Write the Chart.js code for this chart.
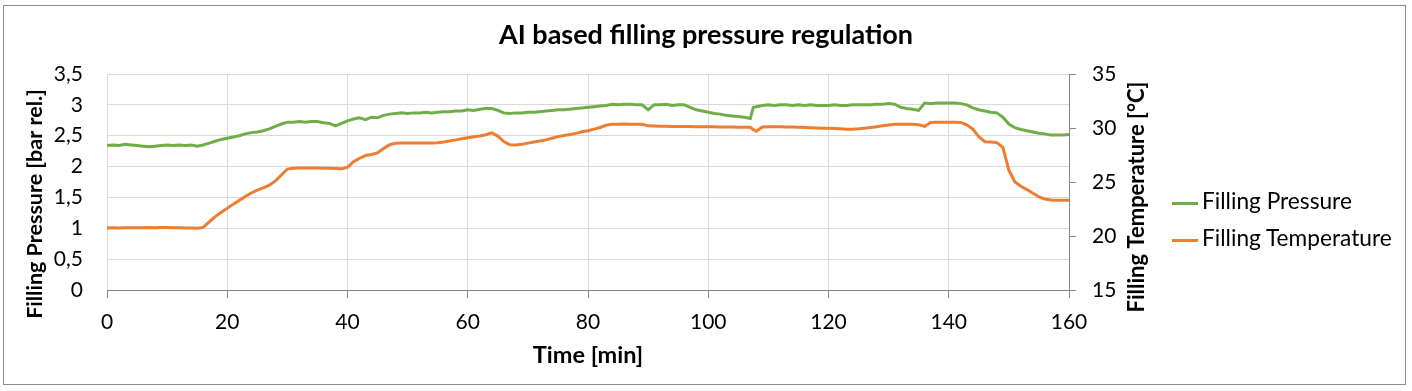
<!DOCTYPE html>
<html>
<head>
<meta charset="utf-8">
<script src="https://cdn.jsdelivr.net/npm/chart.js@4"></script>
<style>
  body { margin: 0; background: #fff; }
  #wrap { position: relative; width: 1412px; height: 391px; }
  #legend { position: absolute; left: 1172px; top: 182px; font-family: Lato, sans-serif; font-size: 22.7px; color: #000; }
  #legend .item { height: 37px; line-height: 37px; white-space: nowrap; }
  #legend .line { display: inline-block; width: 26px; height: 3px; vertical-align: middle; margin-right: 4px; }
</style>
</head>
<body>
<div id="wrap">
  <canvas id="fillChart" width="1412" height="391"></canvas>
  <div id="legend"></div>
</div>
<script>
var minutes = [
  0, 1, 2, 3, 4, 5, 6, 7, 8, 9, 10, 11, 12, 13, 14, 15, 16, 17, 18, 19,
  20, 21, 22, 23, 24, 25, 26, 27, 28, 29, 30, 31, 32, 33, 34, 35, 36, 37, 38, 39,
  40, 41, 42, 43, 44, 45, 46, 47, 48, 49, 50, 51, 52, 53, 54, 55, 56, 57, 58, 59,
  60, 61, 62, 63, 64, 65, 66, 67, 68, 69, 70, 71, 72, 73, 74, 75, 76, 77, 78, 79,
  80, 81, 82, 83, 84, 85, 86, 87, 88, 89, 90, 91, 92, 93, 94, 95, 96, 97, 98, 99,
  100, 101, 102, 103, 104, 105, 106, 107, 107.5, 108, 109, 110, 111, 112, 113, 114, 115, 116, 117, 118, 119,
  120, 121, 122, 123, 124, 125, 126, 127, 128, 129, 130, 131, 132, 133, 134, 135, 136, 137, 138, 139,
  140, 141, 142, 143, 144, 145, 146, 147, 148, 149, 150, 151, 152, 153, 154, 155, 156, 157, 158, 159,
  160
];

// bar rel.
var pressure = [
  2.34, 2.35, 2.34, 2.36, 2.35, 2.34, 2.33, 2.32, 2.33, 2.34, 2.35, 2.34, 2.35, 2.34, 2.35, 2.33, 2.35, 2.38, 2.41, 2.44,
  2.46, 2.48, 2.50, 2.53, 2.55, 2.56, 2.58, 2.61, 2.65, 2.69, 2.72, 2.72, 2.73, 2.72, 2.73, 2.73, 2.71, 2.70, 2.66, 2.70,
  2.74, 2.77, 2.79, 2.76, 2.80, 2.79, 2.83, 2.85, 2.86, 2.87, 2.86, 2.87, 2.87, 2.88, 2.87, 2.88, 2.89, 2.89, 2.90, 2.90,
  2.92, 2.91, 2.93, 2.94, 2.94, 2.91, 2.87, 2.86, 2.87, 2.87, 2.88, 2.88, 2.89, 2.90, 2.91, 2.92, 2.92, 2.93, 2.94, 2.95,
  2.96, 2.97, 2.98, 2.99, 3.01, 3.00, 3.01, 3.01, 3.00, 3.00, 2.92, 3.00, 3.00, 3.01, 2.99, 3.00, 3.00, 2.96, 2.92, 2.90,
  2.88, 2.86, 2.85, 2.83, 2.82, 2.81, 2.80, 2.78, 2.96, 2.97, 2.99, 3.00, 2.99, 3.00, 3.00, 2.99, 3.00, 2.99, 3.00, 2.99, 2.99,
  2.99, 3.00, 2.99, 2.99, 3.00, 3.00, 3.00, 3.00, 3.01, 3.01, 3.02, 3.01, 2.96, 2.94, 2.93, 2.91, 3.03, 3.02, 3.03, 3.03,
  3.03, 3.03, 3.02, 3.00, 2.95, 2.92, 2.90, 2.88, 2.87, 2.80, 2.69, 2.63, 2.60, 2.58, 2.56, 2.54, 2.53, 2.51, 2.51, 2.51,
  2.52
];

// °C
var temperature = [
  20.75, 20.76, 20.75, 20.77, 20.76, 20.76, 20.77, 20.78, 20.77, 20.78, 20.78, 20.77, 20.76, 20.75, 20.74, 20.72, 20.80, 21.30, 21.80, 22.20,
  22.56, 22.95, 23.30, 23.65, 23.98, 24.25, 24.45, 24.70, 25.10, 25.65, 26.20, 26.28, 26.30, 26.30, 26.29, 26.30, 26.28, 26.27, 26.25, 26.22,
  26.35, 26.88, 27.20, 27.45, 27.55, 27.70, 28.10, 28.45, 28.58, 28.60, 28.60, 28.60, 28.61, 28.61, 28.62, 28.64, 28.70, 28.80, 28.90, 29.00,
  29.10, 29.18, 29.26, 29.38, 29.55, 29.25, 28.75, 28.45, 28.43, 28.50, 28.60, 28.70, 28.80, 28.90, 29.05, 29.20, 29.30, 29.40, 29.50, 29.65,
  29.75, 29.90, 30.05, 30.25, 30.34, 30.35, 30.36, 30.35, 30.35, 30.34, 30.20, 30.18, 30.17, 30.16, 30.15, 30.15, 30.14, 30.13, 30.12, 30.12,
  30.12, 30.11, 30.10, 30.10, 30.09, 30.08, 30.07, 30.06, 29.85, 29.70, 30.10, 30.12, 30.12, 30.11, 30.10, 30.09, 30.07, 30.05, 30.03, 30.00, 29.98,
  29.97, 29.95, 29.92, 29.89, 29.88, 29.92, 29.98, 30.05, 30.12, 30.20, 30.28, 30.34, 30.35, 30.35, 30.34, 30.30, 30.15, 30.50, 30.53, 30.53,
  30.54, 30.53, 30.52, 30.30, 29.90, 29.20, 28.73, 28.70, 28.65, 28.20, 26.10, 25.00, 24.60, 24.30, 23.95, 23.62, 23.42, 23.33, 23.30, 23.30,
  23.30
];

var timeTicks = [0, 20, 40, 60, 80, 100, 120, 140, 160];
var seriesNames = ['Filling Pressure', 'Filling Temperature'];
var seriesColors = ['#70AD47', '#ED7D31'];

var FONT = 'Lato, "Open Sans", sans-serif';

function points(ys) {
    return minutes.map(function (t, i) { return { x: t, y: ys[i] }; });
}

// frame round the whole chart + rotated axis titles (both read bottom-to-top)
var decor = {
    id: 'decor',
    afterDraw: function (chart) {
        var ctx = chart.ctx;
        var mid = (chart.chartArea.top + chart.chartArea.bottom) / 2;
        ctx.save();
        ctx.strokeStyle = '#8c8c8c';
        ctx.lineWidth = 1;
        ctx.strokeRect(3.5, 5.5, 1402, 379);
        ctx.fillStyle = '#000';
        ctx.font = 'bold 21.5px ' + FONT;
        ctx.textAlign = 'center';
        ctx.textBaseline = 'middle';
        ctx.translate(35, mid + 22);
        ctx.rotate(-Math.PI / 2);
        ctx.fillText('Filling Pressure [bar rel.]', 0, 0);
        ctx.restore();
        ctx.save();
        ctx.fillStyle = '#000';
        ctx.font = 'bold 22px ' + FONT;
        ctx.textAlign = 'center';
        ctx.textBaseline = 'middle';
        ctx.translate(chart.chartArea.right + 68, mid + 15);
        ctx.rotate(-Math.PI / 2);
        ctx.fillText('Filling Temperature [°C]', 0, 0);
        ctx.restore();
    }
};

var ctx = document.getElementById('fillChart');
var myChart = new Chart(ctx, {
    type: 'line',
    data: {
        datasets: [{
            label: seriesNames[0],
            data: points(pressure),
            yAxisID: 'yP',
            borderColor: seriesColors[0],
            backgroundColor: seriesColors[0],
            borderWidth: 3,
            pointRadius: 0,
            tension: 0
        }, {
            label: seriesNames[1],
            data: points(temperature),
            yAxisID: 'yT',
            borderColor: seriesColors[1],
            backgroundColor: seriesColors[1],
            borderWidth: 3,
            pointRadius: 0,
            tension: 0
        }]
    },
    options: {
        responsive: false,
        animation: false,
        layout: { padding: 0 },
        plugins: {
            legend: { display: false },
            tooltip: { enabled: false },
            title: {
                display: true,
                text: 'AI based filling pressure regulation',
                color: '#000',
                font: { family: FONT, size: 27, weight: 'bold' },
                padding: { top: 18.8, bottom: 22.8 }
            }
        },
        scales: {
            x: {
                type: 'linear',
                min: 0,
                max: 160,
                afterBuildTicks: function (scale) {
                    scale.ticks = timeTicks.map(function (v) { return { value: v }; });
                },
                afterFit: function (scale) { scale.height = 101; },
                grid: { color: '#d9d9d9', tickColor: '#868686', tickLength: 8 },
                border: { color: '#868686' },
                ticks: { color: '#000', padding: 12, maxRotation: 0, font: { family: FONT, size: 21 } },
                title: {
                    display: true,
                    text: 'Time [min]',
                    color: '#000',
                    font: { family: FONT, size: 23.5, weight: 'bold' },
                    padding: { top: 0, bottom: 21.9 }
                }
            },
            yP: {
                position: 'left',
                min: 0,
                max: 3.5,
                afterFit: function (scale) { scale.width = 107; },
                grid: { color: '#d9d9d9', drawTicks: false },
                border: { display: false },
                ticks: {
                    stepSize: 0.5,
                    color: '#000',
                    padding: 24,
                    font: { family: FONT, size: 21 },
                    callback: function (v) { return String(v).replace('.', ','); }
                }
            },
            yT: {
                position: 'right',
                min: 15,
                max: 35,
                afterFit: function (scale) { scale.width = 343; },
                grid: { drawOnChartArea: false, tickColor: '#868686', tickLength: 7 },
                border: { color: '#868686' },
                ticks: { stepSize: 5, color: '#000', padding: 16, font: { family: FONT, size: 21 } }
            }
        }
    },
    plugins: [decor]
});

// legend at the right, outside the canvas
var legendBox = document.getElementById('legend');
seriesNames.forEach(function (name, i) {
    var row = document.createElement('div');
    row.className = 'item';
    var line = document.createElement('span');
    line.className = 'line';
    line.style.background = seriesColors[i];
    row.appendChild(line);
    row.appendChild(document.createTextNode(name));
    legendBox.appendChild(row);
});
</script>
</body>
</html>
